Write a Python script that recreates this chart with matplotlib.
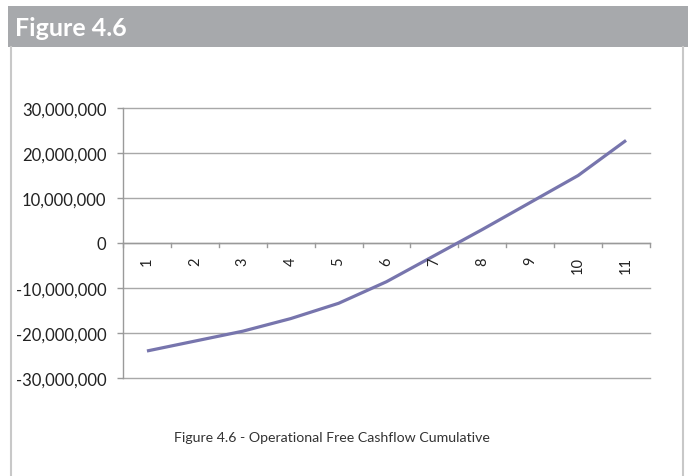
import numpy as np
import matplotlib
matplotlib.use('Agg')
import matplotlib.pyplot as plt
from matplotlib.patches import Rectangle
from matplotlib.lines import Line2D

# data (cumulative operational free cashflow)
years = [1, 2, 3, 4, 5, 6, 7, 8, 9, 10, 11]
cashflow = [-24.0e6, -21.8e6, -19.6e6, -16.8e6, -13.4e6, -8.6e6,
            -2.8e6, 3.0e6, 9.0e6, 15.0e6, 22.8e6]
y_ticks = [-30e6, -20e6, -10e6, 0, 10e6, 20e6, 30e6]

W, H = 688, 477
fig = plt.figure(figsize=(W / 100, H / 100), dpi=100)
fig.patch.set_facecolor('white')

def fx(px):
    return px / W

def fy(py):
    return 1 - py / H

# header bar + panel frame
fig.patches.append(Rectangle((fx(8), fy(48)), fx(680), fy(7) - fy(48),
                             transform=fig.transFigure, facecolor='#a7a9ac',
                             edgecolor='none', zorder=0))
fig.lines.append(Line2D([fx(11), fx(11)], [fy(48), 0], transform=fig.transFigure,
                        color='#c8c8c8', lw=1.5))
fig.lines.append(Line2D([fx(683), fx(683)], [fy(48), 0], transform=fig.transFigure,
                        color='#c8c8c8', lw=1.5))
fig.text(fx(15), fy(29), 'Figure 4.6', color='white', fontsize=18,
         fontweight='bold', family='Lato', va='center', ha='left')

ax = fig.add_axes([fx(123), fy(379), fx(650) - fx(123), fy(109) - fy(379)])
x = np.arange(len(years))
ax.plot(x, cashflow, color='#7775ad', lw=2.3, solid_capstyle='butt', zorder=3)

ax.set_xlim(-0.5, len(years) - 0.5)
ax.set_ylim(-30e6, 30e6)
ax.set_yticks(y_ticks)
ax.set_yticklabels([f'{int(v):,}' for v in y_ticks], family='Lato', fontsize=12,
                   color='#222222')
ax.tick_params(axis='y', length=4, width=1, color='#9a9a9a', pad=8)

for s in ['top', 'right', 'bottom']:
    ax.spines[s].set_visible(False)
ax.spines['left'].set_color('#9a9a9a')
ax.spines['left'].set_linewidth(1)

ax.grid(axis='y', color='#a8a8a8', lw=1)
ax.set_axisbelow(True)
for gl in ax.get_ygridlines():
    gl.set_clip_on(False)

# category axis drawn at zero
ax.set_xticks([])
ax.axhline(0, color='#9a9a9a', lw=1, zorder=2)
for b in np.arange(-0.5, len(years), 1.0):
    ax.plot([b, b], [0, -0.9e6], color='#9a9a9a', lw=1, zorder=2, clip_on=False)
for xi, yr in zip(x, years):
    ax.text(xi, -2.9e6, str(yr), rotation=90, ha='center', va='top',
            family='Lato', fontsize=10.5, color='#222222')

fig.text(fx(332), fy(438), 'Figure 4.6 - Operational Free Cashflow Cumulative',
         family='Lato', fontsize=10.2, color='#333333', ha='center', va='center')

fig.savefig('out.png', dpi=100)
